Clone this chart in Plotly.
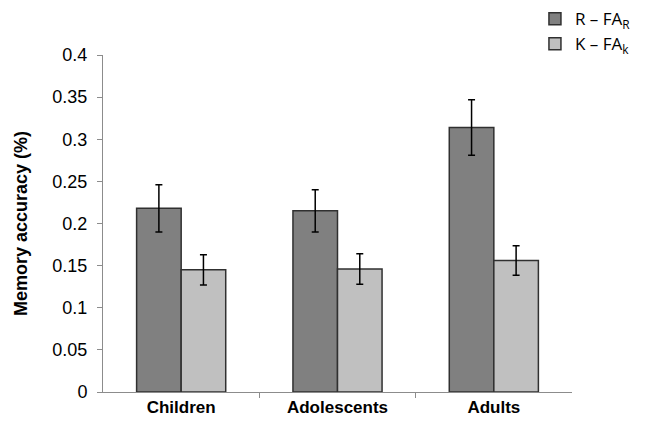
import plotly.graph_objects as go

categories = ["Children", "Adolescents", "Adults"]
r_values = [0.218, 0.215, 0.314]
r_errors = [0.028, 0.025, 0.033]
k_values = [0.145, 0.146, 0.156]
k_errors = [0.018, 0.018, 0.0175]
y_ticks = [0, 0.05, 0.1, 0.15, 0.2, 0.25, 0.3, 0.35, 0.4]
y_tick_labels = ["0", "0.05", "0.1", "0.15", "0.2", "0.25", "0.3", "0.35", "0.4"]

xpos = list(range(len(categories)))

fig = go.Figure()
fig.add_trace(go.Bar(
    x=xpos, y=r_values, name="R – FA<sub>R</sub>",
    marker=dict(color="#808080", line=dict(color="#303030", width=1.5)),
    error_y=dict(type="data", array=r_errors, color="black", thickness=1.5, width=3.5),
))
fig.add_trace(go.Bar(
    x=xpos, y=k_values, name="K – FA<sub>k</sub>",
    marker=dict(color="#c0c0c0", line=dict(color="#303030", width=1.5)),
    error_y=dict(type="data", array=k_errors, color="black", thickness=1.5, width=3.5),
))

fig.update_layout(
    width=633, height=421,
    margin=dict(l=95, r=69, t=47, b=37, autoexpand=False),
    paper_bgcolor="white", plot_bgcolor="white",
    barmode="group", bargap=0.43, bargroupgap=0,
    font=dict(family="Liberation Sans, Arial, sans-serif", color="black"),
    legend=dict(
        x=0.921, y=1.16, xref="paper", yref="paper", xanchor="left", yanchor="top",
        font=dict(family="Open Sans, Liberation Sans, sans-serif", size=17, color="black"),
        bgcolor="rgba(0,0,0,0)", tracegroupgap=0,
    ),
    showlegend=True,
)
fig.update_xaxes(
    range=[-0.5, 2.5], tickvals=xpos, ticktext=categories,
    ticks="", showgrid=False, zeroline=False,
    showline=True, linecolor="#8c8c8c", linewidth=1,
    tickfont=dict(family="Liberation Sans, Arial, sans-serif", size=17, color="black", weight="bold"),
    minor=dict(tickvals=[0.5, 1.5], ticks="outside", ticklen=5, tickcolor="#8c8c8c", showgrid=False),
)
fig.update_yaxes(
    range=[0, 0.4], tickvals=y_ticks, ticktext=y_tick_labels,
    ticks="outside", ticklen=5, tickcolor="#8c8c8c",
    showgrid=False, zeroline=False,
    showline=True, linecolor="#8c8c8c", linewidth=1,
    tickfont=dict(size=18, color="black"),
    ticklabelstandoff=6,
    title=dict(text="<b>Memory accuracy (%)</b>", font=dict(size=18, color="black"), standoff=20),
)

fig.write_html("out.html")
